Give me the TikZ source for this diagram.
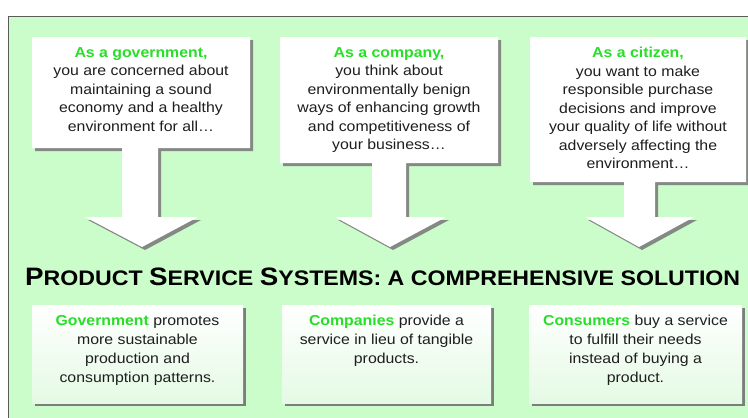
\documentclass[tikz,border=0pt]{standalone}
\usepackage{fontspec}
\setmainfont{Liberation Sans}[FakeStretch=1.1]
\definecolor{bggreen}{RGB}{202,253,202}
\definecolor{lblgreen}{RGB}{40,222,40}
\definecolor{txt}{RGB}{30,30,30}
\definecolor{shadowgray}{RGB}{125,125,125}
\definecolor{boxbottom}{RGB}{228,250,228}
\definecolor{borderline}{RGB}{90,90,90}
\newcommand\tbig[1]{{\fontsize{25.2}{25}\selectfont #1}}
\newcommand\lbl[1]{{\bfseries\color{lblgreen}#1}}
\tikzset{
  callout/.style={fill=white},
  calloutshadow/.style={fill=shadowgray, opacity=0.9},
  topText/.style={anchor=north, inner sep=0pt, align=center, text=txt,
    font=\fontsize{14.4}{18.5}\selectfont},
  botText/.style={anchor=north, inner sep=0pt, align=center, text=txt,
    font=\fontsize{14.4}{19}\selectfont},
  botbox/.style={top color=white, bottom color=boxbottom},
}
\begin{document}
\begin{tikzpicture}[x=1pt,y=-1pt]
\useasboundingbox (0,0) rectangle (748,418);
% background panel
\fill[bggreen] (8,16) rectangle (748,418);
\draw[borderline, line width=1pt] (8,418) -- (8,16) -- (748,16);

% top callouts: shadows then shapes
\def\calloutA{(32,37) -- (250,37) -- (250,148) -- (158,148) -- (158,217) -- (198,217) -- (142,247) -- (85,217) -- (122,217) -- (122,148) -- (32,148) -- cycle}
\def\calloutB{(280,37) -- (498,37) -- (498,163) -- (406,163) -- (406,217) -- (446,217) -- (390,247) -- (335,217) -- (372,217) -- (372,163) -- (280,163) -- cycle}
\def\calloutC{(530,37) -- (746,37) -- (746,182) -- (655,182) -- (655,217) -- (694,217) -- (639,247) -- (585,217) -- (624,217) -- (624,182) -- (530,182) -- cycle}
\begin{scope}[shift={(3,3)}]
  \fill[calloutshadow] \calloutA;
  \fill[calloutshadow] \calloutB;
  \fill[calloutshadow] \calloutC;
\end{scope}
\fill[callout] \calloutA;
\fill[callout] \calloutB;
\fill[callout] \calloutC;

\node[topText] (gov) at (141,47) {\lbl{As a government,}\\you are concerned about\\maintaining a sound\\economy and a healthy\\environment for all\dots};
\node[topText] (comp) at (389,47) {\lbl{As a company,}\\you think about\\environmentally benign\\ways of enhancing growth\\and competitiveness of\\your business\dots};
\node[topText] (cit) at (638,47) {\lbl{As a citizen,}\\you want to make\\responsible purchase\\decisions and improve\\your quality of life without\\adversely affecting the\\environment\dots};

% title
\node[anchor=base west, inner sep=0pt, text=black] (title) at (25,285)
  {\bfseries\fontsize{21.05}{21}\selectfont \tbig{P}RODUCT \tbig{S}ERVICE \tbig{S}YSTEMS: A COMPREHENSIVE SOLUTION};

% bottom boxes
\fill[shadowgray] (35,308) rectangle (246,406);
\fill[shadowgray] (285,308) rectangle (494,406);
\fill[shadowgray] (532,308) rectangle (745,406);
\shade[botbox] (32,305) rectangle (243,403);
\shade[botbox] (282,305) rectangle (491,403);
\shade[botbox] (529,305) rectangle (742,403);

\node[botText] (govb) at (137.5,315) {\lbl{Government} promotes\\more sustainable\\production and\\consumption patterns.};
\node[botText] (compb) at (386.5,315) {\lbl{Companies} provide a\\service in lieu of tangible\\products.};
\node[botText] (consb) at (635.5,315) {\lbl{Consumers} buy a service\\to fulfill their needs\\instead of buying a\\product.};
\end{tikzpicture}
\end{document}
